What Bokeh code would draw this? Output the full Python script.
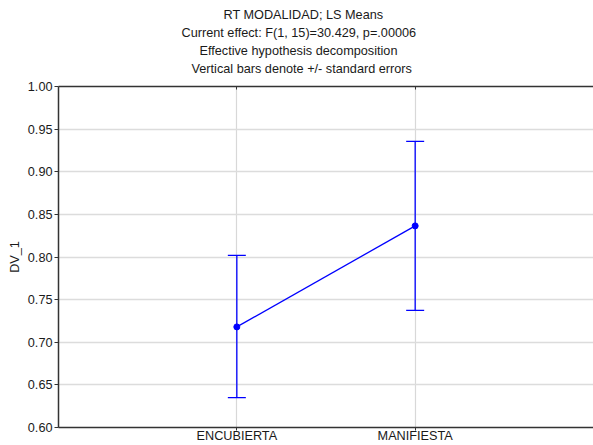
from bokeh.plotting import figure
from bokeh.models import (Whisker, ColumnDataSource, FixedTicker, Title, LinearAxis,
                          Range1d, NumeralTickFormatter)
from bokeh.embed import file_html
from bokeh.resources import INLINE

categories = ["ENCUBIERTA", "MANIFIESTA"]
x_pos = [1, 2]
means = [0.718, 0.8365]
upper = [0.802, 0.9357]
lower = [0.635, 0.7375]
y_ticks = [0.60, 0.65, 0.70, 0.75, 0.80, 0.85, 0.90, 0.95, 1.00]
title_lines = [
    "RT MODALIDAD; LS Means",
    "Current effect: F(1, 15)=30.429, p=.00006",
    "Effective hypothesis decomposition",
    "Vertical bars denote +/- standard errors",
]
title_offsets = [165, 123, 141, 133]

FONT = "Liberation Sans"
FS = "12.7px"
BLUE = "#0000ff"
AX = "#333333"
TXT = "#1a1a1a"

p = figure(width=593, height=445, output_backend="svg", toolbar_location=None,
           x_range=Range1d(0, 3), y_range=Range1d(0.6, 1.0),
           min_border_left=58, min_border_right=0, min_border_top=86, min_border_bottom=18,
           x_axis_location=None, y_axis_location=None, title=None)
p.outline_line_color = None
p.background_fill_color = "white"
p.border_fill_color = "white"

# left axis
ly = LinearAxis(ticker=FixedTicker(ticks=y_ticks), formatter=NumeralTickFormatter(format="0.00"),
                axis_label="DV_1")
ly.axis_line_color = AX
ly.axis_line_width = 1.5
ly.major_tick_line_color = AX
ly.major_tick_in = 0
ly.major_tick_out = 4
ly.minor_tick_line_color = None
ly.major_label_text_font = FONT
ly.major_label_text_font_size = FS
ly.major_label_text_color = TXT
ly.major_label_standoff = 2
ly.axis_label_text_font = FONT
ly.axis_label_text_font_size = FS
ly.axis_label_text_font_style = "normal"
ly.axis_label_text_color = TXT
ly.axis_label_standoff = 3
p.add_layout(ly, "left")

# bottom axis
bx = LinearAxis(ticker=FixedTicker(ticks=x_pos),
                major_label_overrides={x: c for x, c in zip(x_pos, categories)})
bx.axis_line_color = AX
bx.axis_line_width = 1.5
bx.major_tick_line_color = AX
bx.major_tick_in = 0
bx.major_tick_out = 3
bx.minor_tick_line_color = None
bx.major_label_text_font = FONT
bx.major_label_text_font_size = FS
bx.major_label_text_color = TXT
bx.major_label_standoff = -2
p.add_layout(bx, "below")

# top border axis (added first so it sits against the frame)
tx = LinearAxis(ticker=FixedTicker(ticks=x_pos),
                major_label_overrides={x: "" for x in x_pos})
tx.axis_line_color = AX
tx.axis_line_width = 1.5
tx.major_tick_line_color = AX
tx.major_tick_in = 3
tx.major_tick_out = 0
tx.minor_tick_line_color = None
tx.major_label_text_font_size = "0px"
tx.major_label_standoff = 0
p.add_layout(tx, "above")

# spacer between frame and the title block
p.add_layout(Title(text=" ", standoff=6.5, text_font_size="1px"), "above")

# titles: first added is closest to the plot
for txt, off in reversed(list(zip(title_lines, title_offsets))):
    p.add_layout(Title(text=txt, align="left", offset=off, standoff=1.7,
                       text_font=FONT, text_font_size=FS, text_font_style="normal",
                       text_color=TXT), "above")

p.xgrid.ticker = FixedTicker(ticks=x_pos)
p.ygrid.ticker = FixedTicker(ticks=y_ticks)
p.xgrid.grid_line_color = "#d8d8d8"
p.ygrid.grid_line_color = "#dcdcdc"
p.xgrid.grid_line_width = 1.2
p.ygrid.grid_line_width = 1.5

src = ColumnDataSource(dict(x=x_pos, mean=means, upper=upper, lower=lower))
w = Whisker(source=src, base="x", upper="upper", lower="lower", line_color=BLUE, line_width=1.3)
w.upper_head.size = 18
w.lower_head.size = 18
w.upper_head.line_color = BLUE
w.lower_head.line_color = BLUE
w.upper_head.line_width = 1.3
w.lower_head.line_width = 1.3
p.add_layout(w)

p.line("x", "mean", source=src, line_color=BLUE, line_width=1.3)
p.scatter("x", "mean", source=src, size=6, fill_color=BLUE, line_color=BLUE)

open("out.html", "w").write(file_html(p, INLINE))
